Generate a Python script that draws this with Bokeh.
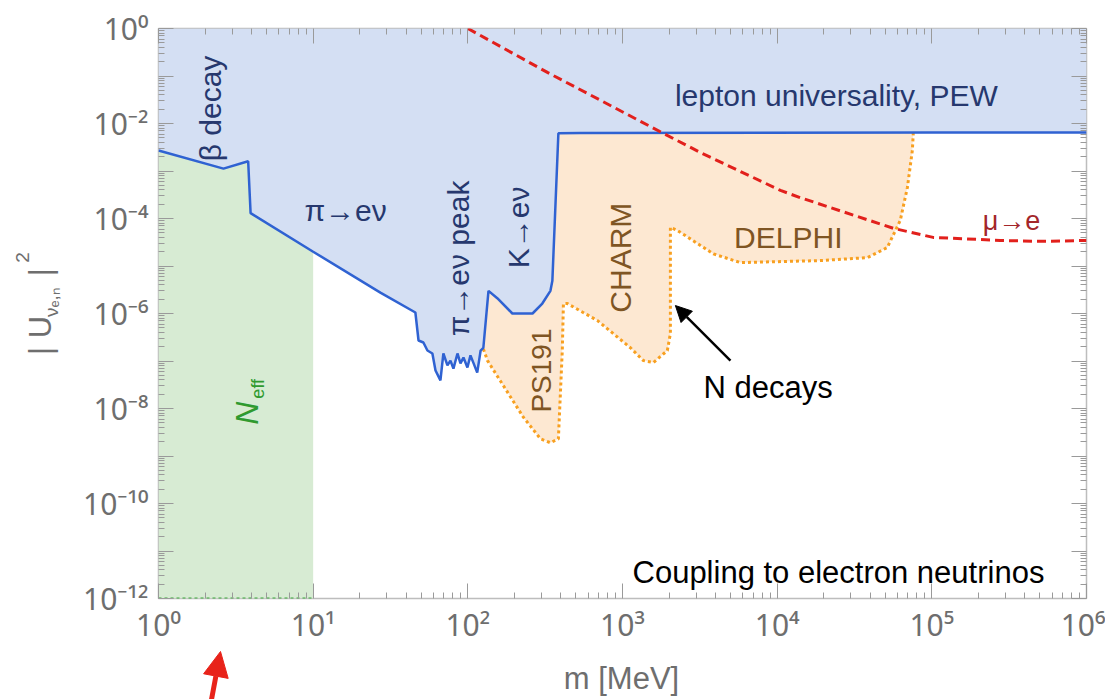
import math
from bokeh.plotting import figure
from bokeh.layouts import column, row
from bokeh.models import (Range1d, LogAxis, FixedTicker, CustomJSTickFormatter,
                          Label, Arrow, NormalHead)
from bokeh.embed import file_html
from bokeh.resources import INLINE

# ---------------- data ----------------
# lower edge of the excluded (blue) region: m [MeV], |U|^2
blue_m = [1.0, 2.63, 3.8, 3.94, 10.0, 27.2, 45.8, 48.0, 51.6, 54.8, 59.0, 61.8, 66.5,
          69.5, 73.8, 77.2, 80.7, 85.7, 89.6, 93.7, 99.4, 104, 109, 115, 121, 126, 136,
          155, 194, 262, 303, 342, 352, 385, 535, 1e5, 1e6]
blue_u = [2.7e-3, 1.12e-3, 1.6e-3, 1.3e-4, 2.0e-5, 2.75e-6, 1.05e-6, 2.7e-7, 2.45e-7,
          1.66e-7, 1.44e-7, 6.3e-8, 3.9e-8, 1.44e-7, 8.1e-8, 1.02e-7, 6.9e-8, 1.44e-7,
          8.9e-8, 1.18e-7, 7.3e-8, 1.31e-7, 8.9e-8, 5.7e-8, 1.66e-7, 1.9e-7, 3.0e-6,
          2.1e-6, 1.0e-6, 1.0e-6, 1.62e-6, 3.0e-6, 4.9e-6, 6.2e-3, 6.3e-3, 6.5e-3, 6.5e-3]

# N_eff (BBN) region upper m limit
neff_m_max = 10.0

# N decays (PS191, CHARM, DELPHI) lower boundary
orange_m = [126, 134, 229, 295, 342, 385, 408, 415, 440, 689, 1125, 1365, 1585, 1950,
            2040, 2040, 2265, 3870, 5780, 19000, 38300, 51500, 62500, 69500, 74800, 75900]
orange_u = [1.8e-7, 1.02e-7, 6.5e-9, 2.3e-9, 1.9e-9, 2.3e-9, 1.66e-7, 1.62e-6, 1.62e-6,
            7.1e-7, 1.9e-7, 1.02e-7, 9.3e-8, 1.66e-7, 3.8e-7, 6.5e-5, 5.6e-5, 1.8e-5,
            1.18e-5, 1.3e-5, 1.5e-5, 2.45e-5, 9.1e-5, 4.5e-4, 2.7e-3, 6.3e-3]

# mu -> e conversion bound
mue_m = [100, 327, 1838, 3190, 10500, 14100, 56500, 102000, 277000, 500000, 1e6]
mue_u = [1.0, 0.119, 6.2e-3, 2.45e-3, 3.9e-4, 2.75e-4, 6.2e-5, 4.0e-5, 3.45e-5, 3.3e-5, 3.45e-5]

x_tick_vals = [1, 10, 100, 1e3, 1e4, 1e5, 1e6]
x_tick_labels = ["10⁰", "10¹", "10²", "10³", "10⁴", "10⁵", "10⁶"]
y_tick_vals = [1e-12, 1e-10, 1e-8, 1e-6, 1e-4, 1e-2, 1]
y_tick_labels = ["10⁻¹²", "10⁻¹⁰", "10⁻⁸", "10⁻⁶", "10⁻⁴", "10⁻²", "10⁰"]
x_title = "m [MeV]"

X_MIN, X_MAX = 1, 1e6
Y_MIN, Y_MAX = 1e-12, 1

# ---------------- styles ----------------
FONT = "Liberation Sans"
TICK_FONT = "Noto Sans"
GRAY = "#6e6e6e"
FRAME = "#bdbdbd"
BLUE_FILL = "#d4dff3"
BLUE_LINE = "#2f62d2"
GREEN_FILL = "#d7ebd3"
ORANGE_FILL = "#fde8d2"
ORANGE_LINE = "#f8a020"
RED = "#e2201c"
NAVY = "#26386e"
BROWN = "#7f5523"
POINTER = "#e8231a"

LEFT_W = 72           # strip holding the y title
MAIN_W, MAIN_H = 1105 - LEFT_W, 650
BOTTOM_H = 49         # strip holding the x title and the red pointer
TOTAL_W = LEFT_W + MAIN_W

p = figure(width=MAIN_W, height=MAIN_H, x_axis_type="log", y_axis_type="log",
           x_range=Range1d(X_MIN, X_MAX), y_range=Range1d(Y_MIN, Y_MAX),
           output_backend="svg", toolbar_location=None,
           min_border_left=158 - LEFT_W, min_border_right=19, min_border_top=28,
           min_border_bottom=MAIN_H - 598)
p.grid.visible = False
p.outline_line_color = FRAME
p.outline_line_width = 1.5
p.background_fill_color = "white"

# ticks
x_minor = [k * 10 ** e for e in range(0, 6) for k in range(2, 10)]
y_minor = [k * 10.0 ** e for e in range(-12, 0) for k in range(2, 10)]
x_ticker = FixedTicker(ticks=x_tick_vals, minor_ticks=x_minor)
y_ticker = FixedTicker(ticks=[10.0 ** e for e in range(-12, 1)], minor_ticks=y_minor)

fmt_code = """
for (let i = 0; i < vals.length; i++) {
  if (Math.abs(Math.log10(tick) - Math.log10(vals[i])) < 1e-6) return labs[i];
}
return '';
"""
x_fmt = CustomJSTickFormatter(args=dict(vals=x_tick_vals, labs=x_tick_labels), code=fmt_code)
y_fmt = CustomJSTickFormatter(args=dict(vals=y_tick_vals, labs=y_tick_labels), code=fmt_code)
blank_fmt = CustomJSTickFormatter(code="return '';")


def style_axis(ax):
    ax.axis_line_color = None
    ax.major_tick_in = 15
    ax.major_tick_out = 0
    ax.minor_tick_in = 6
    ax.minor_tick_out = 0
    ax.major_tick_line_color = "#9a9a9a"
    ax.minor_tick_line_color = "#9a9a9a"
    ax.major_tick_line_width = 1
    ax.minor_tick_line_width = 1
    ax.major_label_text_font = TICK_FONT
    ax.major_label_text_color = GRAY
    ax.major_label_text_font_size = "30px"


xa = p.xaxis[0]
xa.ticker = x_ticker
xa.formatter = x_fmt
style_axis(xa)
xa.major_label_standoff = 5

ya = p.yaxis[0]
ya.ticker = y_ticker
ya.formatter = y_fmt
style_axis(ya)
ya.major_label_standoff = 10

top = LogAxis(ticker=x_ticker, formatter=blank_fmt)
style_axis(top)
top.major_label_text_font_size = "1px"
p.add_layout(top, "above")
right = LogAxis(ticker=y_ticker, formatter=blank_fmt)
style_axis(right)
right.major_label_text_font_size = "1px"
p.add_layout(right, "right")

# ---------------- regions ----------------
p.varea(x=blue_m, y1=blue_u, y2=Y_MAX, fill_color=BLUE_FILL)

g_m = [m for m in blue_m if m <= neff_m_max]
g_u = [u for m, u in zip(blue_m, blue_u) if m <= neff_m_max]
p.varea(x=g_m, y1=Y_MIN, y2=g_u, fill_color=GREEN_FILL)
p.line(x=[g_m[0], g_m[-1]], y=[Y_MIN, Y_MIN], line_color="#3aa33a", line_width=2,
       line_dash="3 3")

upper = [(m, u) for m, u in zip(blue_m, blue_u) if orange_m[0] <= m <= 535]
poly_x = orange_m + [m for m, _ in reversed(upper)]
poly_y = orange_u + [u for _, u in reversed(upper)]
p.patch(x=poly_x, y=poly_y, fill_color=ORANGE_FILL, line_color=None)
p.line(x=orange_m, y=orange_u, line_color=ORANGE_LINE, line_width=3, line_dash="3 3")

p.line(x=blue_m, y=blue_u, line_color=BLUE_LINE, line_width=2.5)
p.line(x=mue_m, y=mue_u, line_color=RED, line_width=3, line_dash="9 5")

# ---------------- annotations ----------------
def lab(fig, text, x, y, color, size, angle=0.0, style="normal", font=FONT):
    fig.add_layout(Label(x=x, y=y, text=text, angle=angle, text_color=color,
                         text_font=font, text_font_size=size, text_font_style=style,
                         text_align="center", text_baseline="middle"))

R = math.pi / 2
lab(p, "β decay", 2.17, 0.0207, NAVY, "30px", R)
lab(p, "π→eν", 16.2, 1.48e-4, NAVY, "30px")
lab(p, "π→eν peak", 86.9, 1.44e-5, NAVY, "30px", R)
lab(p, "K→eν", 212, 6.5e-5, NAVY, "30px", R)
lab(p, "lepton universality, PEW", 24150, 0.0389, NAVY, "30px")
lab(p, "PS191", 299, 6.3e-8, BROWN, "28px", R)
lab(p, "CHARM", 969, 1.5e-5, BROWN, "30px", R)
lab(p, "DELPHI", 11800, 4.0e-5, BROWN, "30px")
lab(p, "μ→e", 327000, 8.7e-5, "#a3262a", "27px")
lab(p, "N", 3.71, 8.0e-9, "#2f9a2f", "32px", R, "italic")
lab(p, "eff", 4.4, 2.6e-8, "#2f9a2f", "18px", R)
p.add_layout(Label(x=3335, y=2.76e-8, text="N decays", text_color="black",
                   text_font=FONT, text_font_size="31px", text_baseline="alphabetic"))
p.add_layout(Label(x=24900, y=3.5e-12, text="Coupling to electron neutrinos",
                   text_color="black", text_font=FONT, text_font_size="31px",
                   text_align="center", text_baseline="alphabetic"))

p.add_layout(Arrow(end=NormalHead(size=16, fill_color="black", line_color="black"),
                   x_start=4990, y_start=1.02e-7, x_end=2198, y_end=1.47e-6,
                   line_color="black", line_width=2.5))


def strip(w, h):
    f = figure(width=w, height=h, x_range=Range1d(0, w), y_range=Range1d(0, h),
               output_backend="svg", toolbar_location=None,
               min_border=0, min_border_left=0, min_border_right=0,
               min_border_top=0, min_border_bottom=0)
    f.axis.visible = False
    f.grid.visible = False
    f.outline_line_color = None
    return f

# y title |U_{νe,n}|^2 in a strip on the left (pixel coordinates of the strip)
ly = strip(LEFT_W, MAIN_H)
lab(ly, "| U", 40, MAIN_H - 350, GRAY, "31px", R)
lab(ly, "νₑ,ₙ", 51, MAIN_H - 312, GRAY, "19px", R)
lab(ly, "|", 40, MAIN_H - 278, GRAY, "31px", R)
lab(ly, "2", 22, MAIN_H - 261, GRAY, "19px", R)

# x title and the red pointer in a strip below
bx = strip(TOTAL_W, BOTTOM_H)
lab(bx, x_title, 621, BOTTOM_H - 28, GRAY, "31px")
bx.add_layout(Arrow(end=NormalHead(size=25, fill_color=POINTER, line_color=POINTER),
                    x_start=211, y_start=0, x_end=220, y_end=BOTTOM_H - 1,
                    line_color=POINTER, line_width=5))

layout = column(row(ly, p), bx)
open("out.html", "w").write(file_html(layout, INLINE))
